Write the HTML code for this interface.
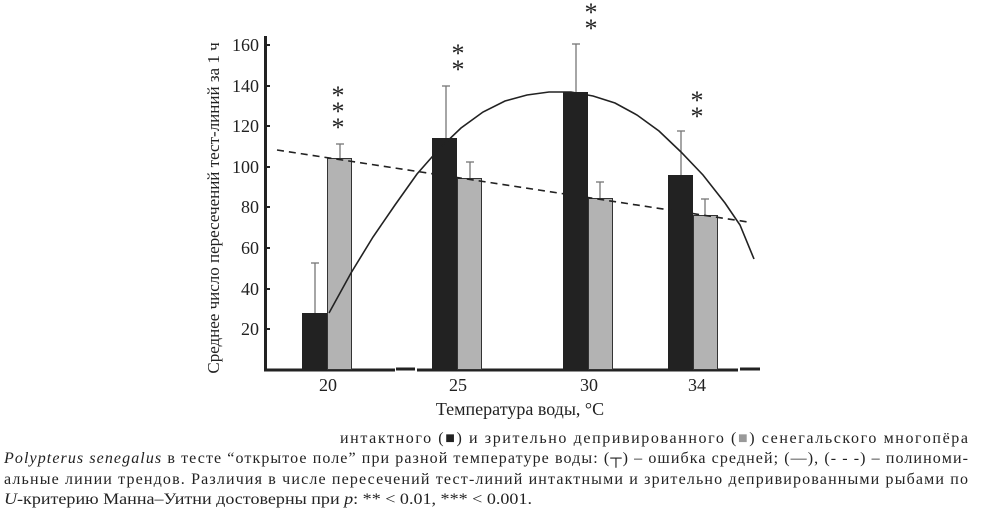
<!DOCTYPE html>
<html><head><meta charset="utf-8"><style>
html,body{margin:0;padding:0;background:#fff;width:984px;height:511px;overflow:hidden}
svg{display:block}
text{font-family:"Liberation Serif","Times New Roman",serif;fill:#222}
</style></head><body>
<svg width="984" height="511" viewBox="0 0 984 511" xmlns="http://www.w3.org/2000/svg">
<!-- axes -->
<line x1="265.5" y1="36" x2="265.5" y2="371" stroke="#222" stroke-width="3"/>
<line x1="264" y1="370" x2="395" y2="370" stroke="#222" stroke-width="3"/>
<line x1="396" y1="369" x2="415" y2="369" stroke="#222" stroke-width="3"/>
<line x1="417" y1="370" x2="738" y2="370" stroke="#222" stroke-width="3"/>
<line x1="740" y1="369" x2="760" y2="369" stroke="#222" stroke-width="3"/>
<!-- y ticks -->
<g stroke="#222" stroke-width="2">
<line x1="265" y1="45" x2="270" y2="45"/><line x1="265" y1="86" x2="270" y2="86"/>
<line x1="265" y1="126" x2="270" y2="126"/><line x1="265" y1="167" x2="270" y2="167"/>
<line x1="265" y1="207" x2="270" y2="207"/><line x1="265" y1="248" x2="270" y2="248"/>
<line x1="265" y1="289" x2="270" y2="289"/><line x1="265" y1="329" x2="270" y2="329"/>
</g>
<g font-size="18" text-anchor="end">
<text x="259" y="51">160</text><text x="259" y="92">140</text><text x="259" y="132">120</text>
<text x="259" y="173">100</text><text x="259" y="213">80</text><text x="259" y="254">60</text>
<text x="259" y="295">40</text><text x="259" y="335">20</text>
</g>
<text transform="translate(219,208) rotate(-90)" font-size="17" text-anchor="middle">Среднее число пересечений тест-линий за 1 ч</text>
<!-- error bars -->
<g stroke="#777" stroke-width="1.3">
<line x1="315" y1="313" x2="315" y2="263"/><line x1="311" y1="263" x2="319" y2="263"/>
<line x1="340" y1="158" x2="340" y2="144"/><line x1="336" y1="144" x2="344" y2="144"/>
<line x1="446" y1="138" x2="446" y2="86"/><line x1="442" y1="86" x2="450" y2="86"/>
<line x1="470" y1="178" x2="470" y2="162"/><line x1="466" y1="162" x2="474" y2="162"/>
<line x1="576" y1="92" x2="576" y2="44"/><line x1="572" y1="44" x2="580" y2="44"/>
<line x1="600" y1="198" x2="600" y2="182"/><line x1="596" y1="182" x2="604" y2="182"/>
<line x1="681" y1="175" x2="681" y2="131"/><line x1="677" y1="131" x2="685" y2="131"/>
<line x1="705" y1="215" x2="705" y2="199"/><line x1="701" y1="199" x2="709" y2="199"/>
</g>
<!-- bars -->
<g fill="#222">
<rect x="302" y="313" width="25" height="57"/><rect x="432" y="138" width="25" height="232"/>
<rect x="563" y="92" width="25" height="278"/><rect x="668" y="175" width="25" height="195"/>
</g>
<g fill="#b3b3b3" stroke="#333" stroke-width="1">
<rect x="327.5" y="158.5" width="24" height="211"/><rect x="457.5" y="178.5" width="24" height="191"/>
<rect x="588.5" y="198.5" width="24" height="171"/><rect x="693.5" y="215.5" width="24" height="154"/>
</g>
<!-- trends -->
<line x1="277" y1="150" x2="748" y2="222" stroke="#222" stroke-width="1.6" stroke-dasharray="7,5"/>
<path d="M329,313 L351,273 L373,237 L395,205 L417,174 L439,149 L461,128 L483,112 L505,101 L527,95 L549,92 L571,92 L593,96 L615,103 L637,115 L659,131 L681,152 L703,175 L725,203 L740,225 L754,259" fill="none" stroke="#222" stroke-width="1.6"/>
<!-- stars -->
<g font-size="26" text-anchor="middle" font-family="Liberation Sans,sans-serif">
<text x="338" y="104">*</text><text x="338" y="120">*</text><text x="338" y="136">*</text>
<text x="458" y="62">*</text><text x="458" y="78">*</text>
<text x="591" y="21">*</text><text x="591" y="37">*</text>
<text x="697" y="109">*</text><text x="697" y="125">*</text>
</g>
<!-- x labels -->
<g font-size="18" text-anchor="middle">
<text x="328" y="391">20</text><text x="458" y="391">25</text><text x="589" y="391">30</text><text x="697" y="391">34</text>
</g>
<text x="520" y="415" font-size="18" text-anchor="middle">Температура воды, °С</text>
<!-- caption -->
<g font-size="16">
<text x="340" y="443" textLength="628" lengthAdjust="spacing">интактного (■) и зрительно депривированного (<tspan fill="#999">■</tspan>) сенегальского многопёра</text>
<text x="4" y="463" textLength="964" lengthAdjust="spacing"><tspan font-style="italic">Polypterus senegalus</tspan> в тесте “открытое поле” при разной температуре воды: (┬) – ошибка средней; (—), (- - -) – полинoми-</text>
<text x="4" y="484" textLength="964" lengthAdjust="spacing">альные линии трендов. Различия в числе пересечений тест-линий интактными и зрительно депривированными рыбами по</text>
<text x="4" y="504" textLength="528" lengthAdjust="spacingAndGlyphs"><tspan font-style="italic">U</tspan>-критерию Манна–Уитни достоверны при <tspan font-style="italic">p</tspan>: ** &lt; 0.01, *** &lt; 0.001.</text>
</g>
</svg>
</body></html>
